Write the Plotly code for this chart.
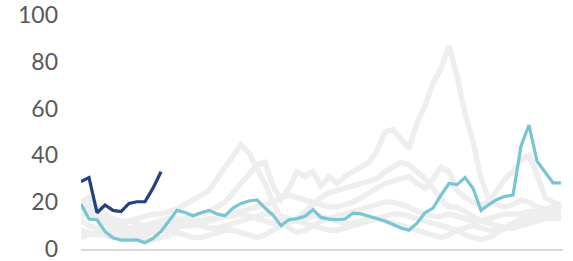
import plotly.graph_objects as go

# x positions (weeks-ish index), step 2
x_vals = list(range(0, 121, 2))

teal = [19.2, 12.8, 12.5, 7.5, 4.8, 3.8, 3.8, 3.9, 2.7, 4.5, 7.5, 12, 16.5, 15.6, 14.2, 15.5,
        16.5, 15, 14.2, 17.5, 19.5, 20.5, 21, 17.5, 14.5, 10, 12.5, 13, 14, 16.8, 13.5, 12.8,
        12.5, 12.8, 15.3, 15, 14, 12.8, 12, 10.5, 9, 8, 11, 15.5, 17.5, 23, 28, 27.5, 30.5,
        26, 16.5, 19, 21.2, 22.5, 23, 44, 53, 37.5, 33, 28.3, 28.3]

dark = [28.8, 30.5, 15.5, 18.8, 16.5, 16, 19.5, 20.2, 20.2, 26, 33]

grey_1 = [14, 16, 13, 11, 10, 11, 12, 13, 14, 15, 15, 16, 17, 19, 21, 23, 25, 30, 35, 40, 44.5,
          41, 35, 28, 20, 13, 9, 7, 8, 10, 12, 13, 14, 15, 16, 17, 18, 19, 20, 20, 19, 18, 16,
          15, 14, 14, 15, 14, 13, 12, 12, 13, 14, 15, 15, 15, 16, 16, 15, 15, 15]
grey_2 = [20, 22, 18, 15, 13, 12, 12, 11, 10, 10, 11, 11, 12, 13, 14, 15, 16, 18, 20, 24, 28,
          32, 36, 37, 27, 21, 26, 33, 31, 33, 27, 31, 28, 31, 33, 35, 37, 42, 50, 51, 47, 43,
          54, 61, 71, 77, 87, 74, 58, 46, 30, 21, 19, 18, 19, 21, 20, 18, 17, 17, 17]
grey_3 = [8, 7, 6, 6, 5, 5, 6, 7, 8, 9, 9, 10, 10, 11, 12, 12, 13, 13, 14, 14, 15, 14, 13, 12,
          11, 10, 11, 13, 16, 19, 22, 24, 25, 26, 27, 28, 29, 30, 33, 35, 37, 36, 33, 30, 26,
          21, 18, 18, 16, 14, 12, 11, 10, 9, 9, 10, 11, 12, 13, 13, 13]
grey_4 = [5, 6, 7, 8, 9, 8, 7, 6, 6, 7, 8, 8, 9, 10, 10, 11, 12, 13, 14, 15, 16, 17, 18, 19, 20,
          22, 23, 22, 21, 20, 19, 18, 18, 19, 20, 22, 24, 26, 28, 29, 30, 31, 28, 26, 30, 35,
          33, 25, 22, 20, 19, 20, 25, 30, 33, 38, 40, 32, 22, 20, 19]
grey_5 = [12, 10, 9, 8, 7, 6, 5, 5, 4, 4, 5, 6, 7, 6, 5, 5, 6, 7, 8, 8, 7, 6, 5, 6, 8, 10, 12,
          12, 13, 14, 14, 13, 12, 11, 11, 12, 13, 13, 12, 11, 10, 9, 8, 7, 6, 5, 6, 8, 9, 10,
          9, 8, 8, 9, 10, 12, 13, 14, 14, 14, 14]
grey_6 = [17, 19, 16, 13, 11, 10, 9, 9, 10, 11, 12, 13, 13, 12, 11, 10, 9, 9, 10, 11, 12, 13,
          14, 15, 15, 14, 13, 12, 11, 10, 9, 8, 8, 9, 10, 11, 12, 13, 14, 15, 15, 14, 13, 12,
          11, 10, 9, 8, 6, 5, 4, 5, 7, 9, 11, 13, 15, 16, 17, 18, 19]

y_ticks = [0, 20, 40, 60, 80, 100]

fig = go.Figure()
for g in [grey_1, grey_2, grey_3, grey_4, grey_5, grey_6]:
    fig.add_trace(go.Scatter(x=x_vals[:len(g)], y=g, mode="lines",
                             line=dict(color="#eeeeee", width=5.5), hoverinfo="skip"))
fig.add_trace(go.Scatter(x=x_vals[:len(teal)], y=teal, mode="lines",
                         line=dict(color="#78c5d3", width=3.2)))
fig.add_trace(go.Scatter(x=x_vals[:len(dark)], y=dark, mode="lines",
                         line=dict(color="#23417f", width=3.2)))

fig.update_layout(
    width=573, height=261,
    margin=dict(l=81, r=10, t=15, b=12),
    paper_bgcolor="white", plot_bgcolor="white",
    showlegend=False,
    font=dict(family="Lato", size=23, color="#595959"),
)
fig.update_xaxes(range=[0, 120.5], showgrid=False, zeroline=False, showticklabels=False,
                 showline=True, linecolor="#d9d9d9", linewidth=2, ticks="", automargin=False)
fig.update_yaxes(range=[0, 100], tickvals=y_ticks, showgrid=False, zeroline=False,
                 showline=False, ticks="", ticklabelstandoff=22, automargin=False,
                 ticklabeloverflow="allow")

fig.write_html("out.html", config={"displayModeBar": False},
               post_script="document.body.style.margin='0';")
